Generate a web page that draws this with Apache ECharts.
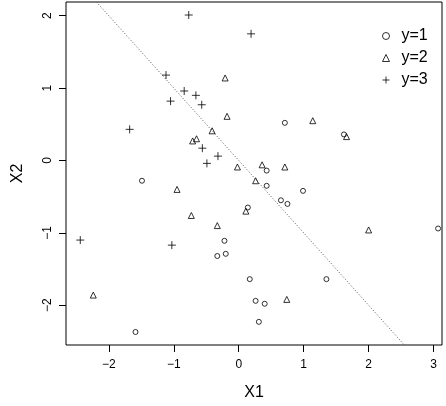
<!DOCTYPE html>
<html><head><meta charset="utf-8">
<script src="https://cdn.jsdelivr.net/npm/echarts@6/dist/echarts.min.js"></script>
<style>html,body{margin:0;padding:0;background:#fff}#c{width:446px;height:406px}</style>
</head><body><div id="c"></div>
<script>
var xTicks = [-2, -1, 0, 1, 2, 3];
var yTicks = [-2, -1, 0, 1, 2];
var class1 = [[-1.49,-0.28],[0.71,0.52],[1.62,0.36],[0.43,-0.14],[0.43,-0.35],[0.99,-0.42],[0.65,-0.55],[0.75,-0.60],[-0.33,-1.32],[-0.22,-1.11],[-0.20,-1.29],[-1.59,-2.37],[0.14,-0.65],[3.07,-0.94],[0.17,-1.64],[1.35,-1.64],[0.26,-1.94],[0.40,-1.98],[0.31,-2.23]];
var class2 = [[-0.21,1.14],[-0.41,0.41],[-0.71,0.27],[-0.65,0.30],[-0.95,-0.40],[-0.18,0.61],[1.14,0.55],[1.66,0.33],[-0.02,-0.09],[0.36,-0.06],[0.71,-0.09],[0.26,-0.28],[-0.73,-0.76],[-0.33,-0.90],[-2.24,-1.86],[0.11,-0.70],[2.00,-0.96],[0.74,-1.92]];
var class3 = [[-0.77,2.01],[0.19,1.75],[-1.12,1.18],[-0.84,0.96],[-0.66,0.90],[-1.05,0.82],[-0.57,0.77],[-1.68,0.43],[-0.56,0.17],[-0.32,0.06],[-0.49,-0.04],[-2.44,-1.10],[-1.03,-1.17]];
var boundary = [[-2.19,2.19],[2.55,-2.55]];

var FONT = 'Liberation Sans, Arial, Helvetica, sans-serif';
function fmt(v){ return String(v).replace('-', '\u2212'); }
var plusPath = 'path://M0,-10L0,10M-10,0L10,0';
var chart = echarts.init(document.getElementById('c'), null, {renderer:'canvas'});
chart.setOption({
  animation: false,
  backgroundColor: '#fff',
  grid: {left: 66, right: 4, top: 2, bottom: 58, show: true, borderColor: '#000', borderWidth: 1, backgroundColor: 'transparent'},
  legend: {
    orient: 'vertical', left: 375, top: 20, itemGap: 0, itemWidth: 7, itemHeight: 7, padding: 5,
    textStyle: {fontFamily: FONT, fontSize: 16, lineHeight: 22, color: '#000', padding: [0,0,0,7]},
    data: [
      {name: 'y=1', icon: 'circle', itemStyle: {color: 'none', borderColor: '#000', borderWidth: 1}},
      {name: 'y=2', icon: 'triangle', itemStyle: {color: 'none', borderColor: '#000', borderWidth: 1}},
      {name: 'y=3', icon: plusPath, itemStyle: {color: 'none', borderColor: '#000', borderWidth: 1}}
    ]
  },
  xAxis: {
    type: 'value', min: -2.66, max: 3.13,
    name: 'X1', nameLocation: 'middle', nameGap: 40,
    nameTextStyle: {fontFamily: FONT, fontSize: 16, color: '#000'},
    axisLine: {show: false, onZero: false},
    axisTick: {show: true, length: 7, inside: false, customValues: xTicks, lineStyle: {color: '#000'}},
    axisLabel: {customValues: xTicks, margin: 14, fontFamily: FONT, fontSize: 12, color: '#000', formatter: fmt},
    splitLine: {show: false}
  },
  yAxis: {
    type: 'value', min: -2.55, max: 2.19,
    name: 'X2', nameLocation: 'middle', nameGap: 40, nameRotate: 90,
    nameTextStyle: {fontFamily: FONT, fontSize: 16, color: '#000'},
    axisLine: {show: false, onZero: false},
    axisTick: {show: true, length: 7, inside: false, customValues: yTicks, lineStyle: {color: '#000'}},
    axisLabel: {customValues: yTicks, rotate: 90, margin: 12, fontFamily: FONT, fontSize: 12, color: '#000', formatter: fmt},
    splitLine: {show: false}
  },
  series: [
    {name: 'boundary', type: 'line', data: boundary, symbol: 'none', silent: true,
     lineStyle: {color: '#555', width: 1, type: [1, 2]}, z: 1},
    {name: 'y=1', type: 'scatter', data: class1, symbol: 'circle', symbolSize: 5,
     itemStyle: {color: 'none', borderColor: '#000', borderWidth: 1}},
    {name: 'y=2', type: 'scatter', data: class2, symbol: 'triangle', symbolSize: 6,
     itemStyle: {color: 'none', borderColor: '#000', borderWidth: 1}},
    {name: 'y=3', type: 'scatter', data: class3, symbol: plusPath, symbolSize: 8,
     itemStyle: {color: 'none', borderColor: '#000', borderWidth: 1}}
  ]
});
</script></body></html>
